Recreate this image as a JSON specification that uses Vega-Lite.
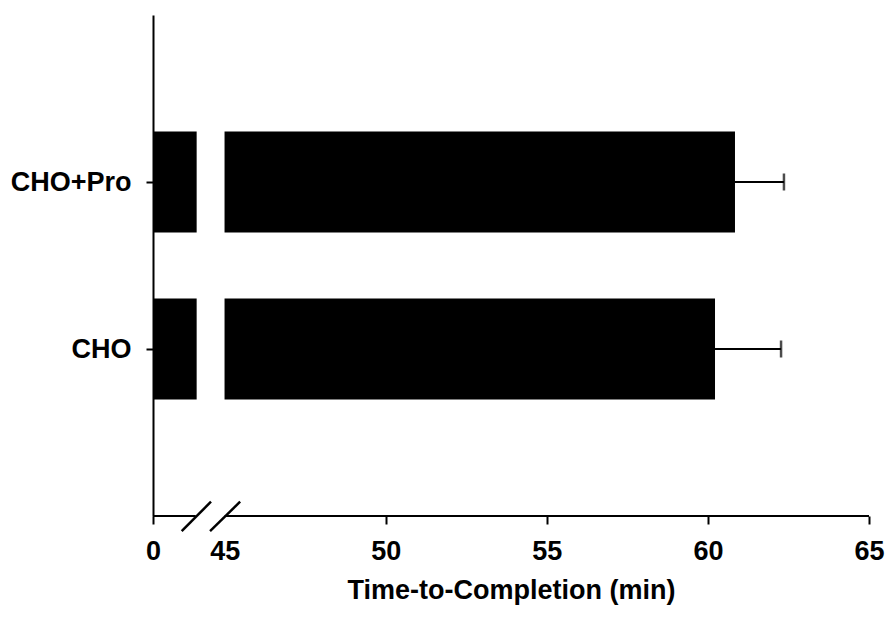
{
  "$schema": "https://vega.github.io/schema/vega-lite/v6.json",
  "width": 716,
  "height": 501,
  "autosize": "none",
  "padding": {"left": 153, "top": 15, "right": 19, "bottom": 103},
  "background": "white",
  "config": {
    "view": {"stroke": null},
    "font": "Liberation Sans",
    "axis": {"labelFont": "Liberation Sans", "titleFont": "Liberation Sans"}
  },
  "data": {
    "values": [
      {"group": "CHO+Pro", "time": 60.84, "upper": 62.36},
      {"group": "CHO", "time": 60.22, "upper": 62.27}
    ]
  },
  "resolve": {"scale": {"y": "independent"}, "axis": {"y": "independent"}},
  "layer": [
    {
      "encoding": {
        "y": {
          "field": "group",
          "type": "nominal",
          "scale": {"type": "point", "domain": ["CHO+Pro", "CHO"], "padding": 1},
          "axis": {
            "title": null,
            "grid": false,
            "domainColor": "black",
            "domainWidth": 2,
            "tickColor": "black",
            "tickWidth": 2,
            "tickSize": 7,
            "labelFontSize": 27,
            "labelFontWeight": "bold",
            "labelColor": "black",
            "labelPadding": 15
          }
        }
      },
      "layer": [
        {
          "mark": {"type": "bar", "color": "black", "size": 101},
          "encoding": {
            "x": {
              "field": "time",
              "type": "quantitative",
              "scale": {"domain": [0, 45, 65], "range": [0, 71.7, 716]},
              "axis": {
                "values": [0, 45, 50, 55, 60, 65],
                "format": "d",
                "title": "Time-to-Completion (min)",
                "domain": false,
                "grid": false,
                "tickColor": "black",
                "tickWidth": 2,
                "tickSize": 8,
                "tickOpacity": {"condition": {"test": "datum.value == 45", "value": 0}, "value": 1},
                "labelFontSize": 27,
                "labelFontWeight": "bold",
                "labelColor": "black",
                "labelPadding": 14,
                "labelOverlap": false,
                "labelFlush": false,
                "titleFontSize": 27,
                "titleFontWeight": "bold",
                "titleColor": "black",
                "titlePadding": 13
              }
            }
          }
        },
        {
          "mark": {"type": "bar", "color": "white", "size": 104},
          "encoding": {
            "x": {"datum": 27.4, "type": "quantitative"},
            "x2": {"datum": 44.9}
          }
        },
        {
          "mark": {"type": "rule", "color": "black", "strokeWidth": 2},
          "encoding": {
            "x": {"field": "time", "type": "quantitative"},
            "x2": {"field": "upper"}
          }
        },
        {
          "mark": {"type": "tick", "color": "black", "size": 17, "thickness": 2.5},
          "encoding": {
            "x": {"field": "upper", "type": "quantitative"}
          }
        }
      ]
    },
    {
      "data": {"values": [{"part": "axis"}]},
      "layer": [
        {
          "mark": {"type": "rule", "color": "black", "strokeWidth": 2},
          "encoding": {
            "x": {"datum": 0, "type": "quantitative"},
            "x2": {"datum": 26.8},
            "y": {"datum": 0, "type": "quantitative", "scale": {"domain": [0, 1]}, "axis": null},
            "y2": {"datum": 0}
          }
        },
        {
          "mark": {"type": "rule", "color": "black", "strokeWidth": 2},
          "encoding": {
            "x": {"datum": 45, "type": "quantitative"},
            "x2": {"datum": 65},
            "y": {"datum": 0, "type": "quantitative"},
            "y2": {"datum": 0}
          }
        },
        {
          "mark": {"type": "rule", "color": "black", "strokeWidth": 2.5},
          "encoding": {
            "x": {"datum": 18.0, "type": "quantitative"},
            "x2": {"datum": 36.4},
            "y": {"datum": -0.03, "type": "quantitative"},
            "y2": {"datum": 0.0285}
          }
        },
        {
          "mark": {"type": "rule", "color": "black", "strokeWidth": 2.5},
          "encoding": {
            "x": {"datum": 35.8, "type": "quantitative"},
            "x2": {"datum": 45.48},
            "y": {"datum": -0.03, "type": "quantitative"},
            "y2": {"datum": 0.0285}
          }
        }
      ]
    }
  ]
}
